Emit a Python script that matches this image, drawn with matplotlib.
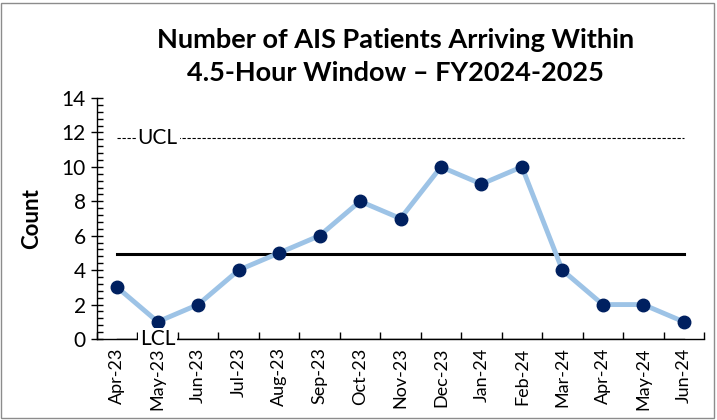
import numpy as np
import matplotlib.pyplot as plt
from matplotlib.ticker import MultipleLocator, FixedLocator
from matplotlib.patches import Rectangle

plt.rcParams['font.family'] = ['Lato', 'DejaVu Sans']

months = ["Apr-23", "May-23", "Jun-23", "Jul-23", "Aug-23", "Sep-23", "Oct-23",
          "Nov-23", "Dec-23", "Jan-24", "Feb-24", "Mar-24", "Apr-24", "May-24", "Jun-24"]
counts = [3, 1, 2, 4, 5, 6, 8, 7, 10, 9, 10, 4, 2, 2, 1]
mean_val = 4.93
ucl = 11.65
lcl = 0

fig = plt.figure(figsize=(7.17, 4.2), dpi=100)
ax = fig.add_axes([97/717, 1 - 339/420, (704 - 97)/717, (339 - 98)/420])

x = np.arange(len(months))
ax.plot(x, counts, color='#9DC3E6', lw=3.5, zorder=3,
        marker='o', markersize=9, markerfacecolor='#002060', markeredgecolor='#002060')

# mean / control lines
ax.plot([x[0], x[-1]], [mean_val, mean_val], color='black', lw=2.2, zorder=2)
ax.plot([x[0], x[-1]], [ucl, ucl], color='black', lw=0.8, ls=(0, (3, 1.5)), zorder=2)
ax.plot([x[0], x[-1]], [lcl, lcl], color='black', lw=1, zorder=2)
ax.text(1, ucl, "UCL", ha='center', va='center', fontsize=15,
        bbox=dict(facecolor='white', edgecolor='none', pad=1.5), zorder=4)
ax.text(1, lcl, "LCL", ha='center', va='center', fontsize=15,
        bbox=dict(facecolor='white', edgecolor='none', pad=1.0), zorder=4, clip_on=False)

ax.set_xlim(-0.5, len(months) - 0.5)
ax.set_ylim(0, 14)
ax.yaxis.set_major_locator(MultipleLocator(2))
ax.yaxis.set_minor_locator(MultipleLocator(0.4))
ax.tick_params(axis='y', which='major', direction='inout', length=8, width=1, labelsize=15, pad=4)
ax.tick_params(axis='y', which='minor', direction='in', length=4, width=1)

ax.set_xticks(x)
ax.set_xticklabels(months, rotation=90, fontsize=13)
ax.tick_params(axis='x', which='major', length=0, pad=6)
ax.xaxis.set_minor_locator(FixedLocator(np.arange(-0.5, len(months), 1.0)))
ax.tick_params(axis='x', which='minor', direction='in', length=5, width=1)

for s in ['top', 'right']:
    ax.spines[s].set_visible(False)
ax.spines['left'].set_linewidth(1)
ax.spines['bottom'].set_linewidth(1)

ax.set_ylabel("Count", fontsize=16, fontweight='bold')
ax.yaxis.set_label_coords((42 - 97) / (704 - 97), 0.5)

fig.text(0.552, 1 - 56.5/420, "Number of AIS Patients Arriving Within\n4.5-Hour Window \u2013 FY2024-2025",
         ha='center', va='center', fontsize=19.5, fontweight='bold', linespacing=1.45)

fig.patches.append(Rectangle((0.002, 0.004), 0.994, 0.99, transform=fig.transFigure,
                             fill=False, edgecolor='#8c8c8c', lw=1))

fig.savefig("out.png", dpi=100)
